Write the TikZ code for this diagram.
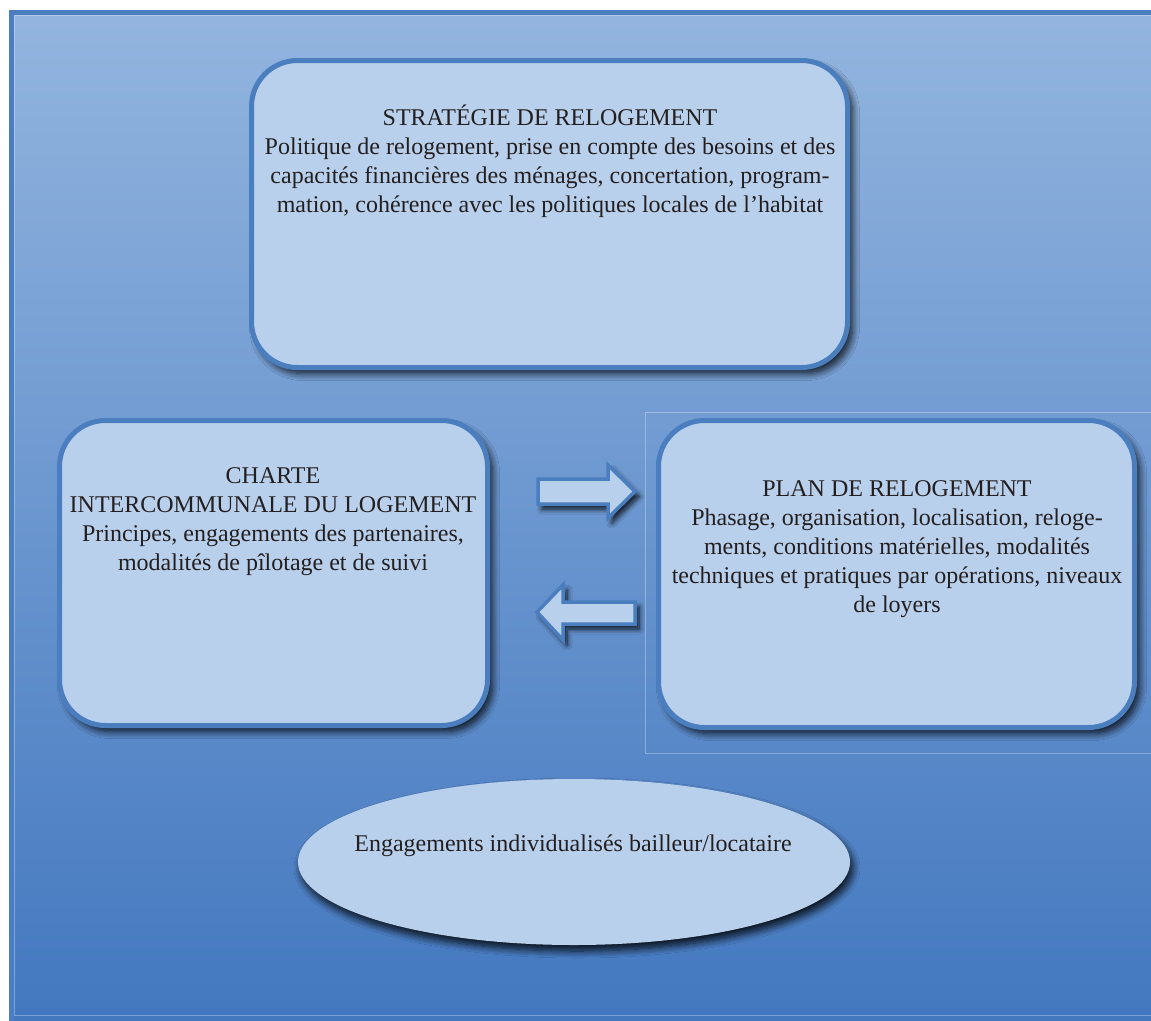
\documentclass[tikz,border=0pt]{standalone}
\usepackage{fontspec}
\setmainfont{Liberation Serif}
\usetikzlibrary{shadows.blur}
\definecolor{bgtop}{HTML}{93B5DF}
\definecolor{bgbot}{HTML}{4277BF}
\definecolor{boxfill}{HTML}{B9D0EC}
\definecolor{boxline}{HTML}{4A7EBF}
\definecolor{txt}{HTML}{231F20}
\tikzset{
  boxshape/.style={draw=boxline, line width=5pt, fill=boxfill, rounded corners=46pt,
    blur shadow={shadow xshift=5pt, shadow yshift=-6pt, shadow blur steps=10, shadow blur radius=7pt, shadow opacity=85}},
  blockarrow/.style={draw=boxline, line width=3.5pt, fill=boxfill, line join=miter,
    blur shadow={shadow xshift=4pt, shadow yshift=-5pt, shadow blur steps=8, shadow blur radius=5pt, shadow opacity=85}},
  label/.style={text=txt, font=\fontsize{24}{29}\selectfont, align=center, inner sep=0pt},
  faint/.style={draw=white, draw opacity=0.3, line width=0.8pt}
}
\begin{document}
\begin{tikzpicture}[x=1pt,y=-1pt]
\useasboundingbox (0,0) rectangle (1151,1020);
\begin{scope}
\clip (0,0) rectangle (1151,1020);
% background
\shade[top color=bgtop, bottom color=bgbot, middle color=bgtop!50!bgbot] (9,10) rectangle (1160,1030);
\draw[boxline, line width=5pt] (11.5,12.5) rectangle (1160,1030);
\draw[faint] (14.5,15.5) rectangle (1160,1015);
% faint frame behind right box
\draw[faint] (645,412) rectangle (1160,753);
% boxes
\path[boxshape] (251.5,60.5) rectangle (847.5,367.5);
\path[boxshape] (59.5,420.5) rectangle (487.5,725.5);
\path[boxshape] (658.5,420.5) rectangle (1134.5,727.5);
% ellipse
\path[fill=boxfill, blur shadow={shadow xshift=3pt, shadow yshift=-6pt, shadow blur steps=10, shadow blur radius=7pt, shadow opacity=85}] (574,862) ellipse [x radius=276, y radius=83];
% arrows
\path[blockarrow] (538,479) -- (608,479) -- (608,465) -- (635,491.5) -- (608,518) -- (608,504) -- (538,504) -- cycle;
\path[blockarrow] (635,602) -- (563,602) -- (563,585) -- (537,612) -- (563,640) -- (563,624) -- (635,624) -- cycle;
\end{scope}
% texts
\node[label] (strat) at (550,161) {STRATÉGIE DE RELOGEMENT\\
Politique de relogement, prise en compte des besoins et des\\
capacités financières des ménages, concertation, program-\\
mation, cohérence avec les politiques locales de l’habitat};
\node[label] (charte) at (273,522) {CHARTE\\
INTERCOMMUNALE DU LOGEMENT\\
Principes, engagements des partenaires,\\
modalités de pîlotage et de suivi};
\node[label] (plan) at (897,549) {PLAN DE RELOGEMENT\\
Phasage, organisation, localisation, reloge-\\
ments, conditions matérielles, modalités\\
techniques et pratiques par opérations, niveaux\\
de loyers};
\node[label] (engag) at (573,846) {Engagements individualisés bailleur/locataire};
\end{tikzpicture}
\end{document}
